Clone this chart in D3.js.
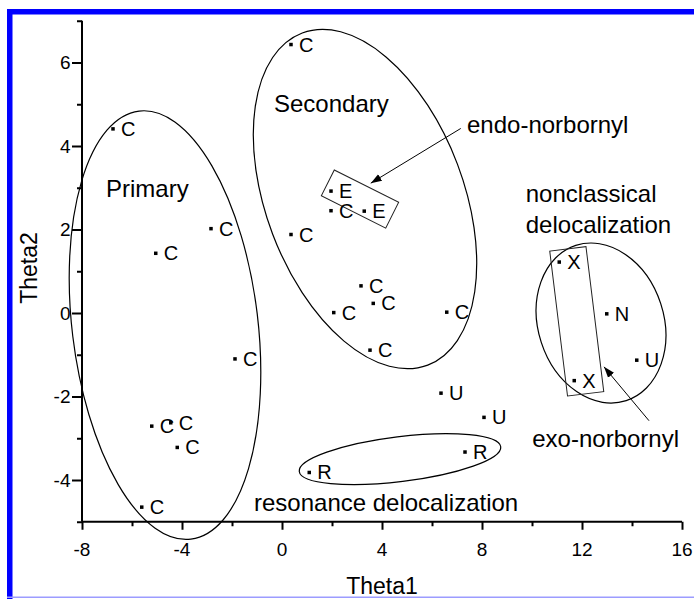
<!DOCTYPE html>
<html>
<head>
<meta charset="utf-8">
<script src="https://cdn.jsdelivr.net/npm/d3@7/dist/d3.min.js"></script>
<style>
  html, body { margin: 0; padding: 0; background: #fff; }
  svg { display: block; }
  text { font-family: "Liberation Sans", Arial, Helvetica, sans-serif; fill: #000; }
</style>
</head>
<body>
<svg id="chart" width="694" height="599"></svg>
<script>
// Cluster map of carbocation descriptors in the (Theta1, Theta2) plane
const xTicksMajor = [-8, -4, 0, 4, 8, 12, 16];
const xTicksMinor = [-6, -2, 2, 6, 10, 14];
const yTicksMajor = [-4, -2, 0, 2, 4, 6];
const yTicksMinor = [-5, -3, -1, 1, 3, 5, 7];

// Scattered compounds: Theta1, Theta2 and class letter
const pointX = [-6.76, -5.05, -2.84, -1.88, -5.21, -4.45, -4.19, -5.61,
                0.36, 0.36, 1.96, 1.96, 3.29, 3.16, 3.65, 2.07, 3.52, 6.59,
                6.36, 8.08, 1.09, 7.32, 11.09, 11.69, 12.99, 14.19];
const pointY = [4.41, 1.43, 2.02, -1.10, -2.71, -2.63, -3.22, -4.65,
                6.43, 1.88, 2.92, 2.45, 2.44, 0.65, 0.23, 0.01, -0.89, 0.02,
                -1.92, -2.50, -3.82, -3.33, 1.22, -1.62, -0.02, -1.13];
const pointLabel = ["C", "C", "C", "C", "C", "C", "C", "C",
                    "C", "C", "E", "C", "E", "C", "C", "C", "C", "C",
                    "U", "U", "R", "R", "X", "X", "N", "U"];

// Group outlines: centre in data units
const groupName = ["Primary", "Secondary", "nonclassical", "resonance"];
const groupCx = [-4.68, 3.32, 12.76, 4.72];
const groupCy = [-0.29, 2.73, -0.24, -3.50];

// Norbornyl boxes: centre in data units
const boxName = ["endo", "exo"];
const boxCx = [3.12, 11.79];
const boxCy = [2.73, -0.20];

// Annotation texts anchored at data coordinates (start of baseline)
const noteText = ["Primary", "Secondary", "endo-norbornyl", "nonclassical",
                  "delocalization", "exo-norbornyl", "resonance delocalization"];
const noteX = [-7.04, -0.32, 7.4, 9.75, 9.75, 10.01, -1.12];
const noteY = [2.78, 4.81, 4.32, 2.65, 1.91, -3.20, -4.74];

// Pointer arrows: tail and head in data units
const arrowX1 = [7.15, 14.68];
const arrowY1 = [4.42, -2.58];
const arrowX2 = [3.55, 12.88];
const arrowY2 = [3.11, -1.29];

const svg = d3.select("#chart");
const plot = { left: 82, right: 682, top: 20.75, bottom: 521.75 };

const x = d3.scaleLinear().domain([-8, 16]).range([plot.left, plot.right]);
const y = d3.scaleLinear().domain([-5, 7]).range([plot.bottom, plot.top]);

// Frame strips
svg.append("rect").attr("x", 7).attr("y", 9).attr("width", 687).attr("height", 5.5).attr("fill", "#0000ff");
svg.append("rect").attr("x", 7).attr("y", 9).attr("width", 5.5).attr("height", 590).attr("fill", "#0000ff");
svg.append("rect").attr("x", 7).attr("y", 596.5).attr("width", 687).attr("height", 1.5).attr("fill", "#9c9cff");

const defs = svg.append("defs");
defs.append("marker")
  .attr("id", "head")
  .attr("viewBox", "0 0 10 10")
  .attr("refX", 10).attr("refY", 5)
  .attr("markerWidth", 11).attr("markerHeight", 11)
  .attr("markerUnits", "userSpaceOnUse")
  .attr("orient", "auto")
  .append("path").attr("d", "M0,1.5 L10,5 L0,8.5 Z").attr("fill", "#000");

// Axes
const gx = svg.append("g").attr("transform", `translate(0,${plot.bottom})`);
gx.call(d3.axisBottom(x).tickValues(xTicksMajor).tickSize(8).tickFormat(""));
const gxm = svg.append("g").attr("transform", `translate(0,${plot.bottom})`);
gxm.call(d3.axisBottom(x).tickValues(xTicksMinor).tickSize(4.5).tickFormat(""));
const gy = svg.append("g").attr("transform", `translate(${plot.left},0)`);
gy.call(d3.axisLeft(y).tickValues(yTicksMajor).tickSize(10).tickFormat(""));
const gym = svg.append("g").attr("transform", `translate(${plot.left},0)`);
gym.call(d3.axisLeft(y).tickValues(yTicksMinor).tickSize(5).tickFormat(""));

[gx, gxm, gy, gym].forEach(g => {
  g.selectAll(".domain").attr("stroke", "#000").attr("stroke-width", 2);
  g.selectAll(".tick line").attr("stroke", "#000").attr("stroke-width", 2);
});
gxm.select(".domain").remove();
gym.select(".domain").remove();
gx.select(".domain").attr("d", `M${plot.left},0H${plot.right}`);
gy.select(".domain").attr("d", `M0,${plot.top}V${plot.bottom}`);

svg.append("g").selectAll("text").data(xTicksMajor).join("text")
  .attr("x", d => x(d)).attr("y", 556)
  .attr("text-anchor", "middle").attr("font-size", 19)
  .text(d => d);
svg.append("g").selectAll("text").data(yTicksMajor).join("text")
  .attr("x", 70.5).attr("y", d => y(d) + 6.6)
  .attr("text-anchor", "end").attr("font-size", 19)
  .text(d => d);

svg.append("text").attr("x", 382).attr("y", 594)
  .attr("text-anchor", "middle").attr("font-size", 23).text("Theta1");
svg.append("text").attr("transform", `translate(37,268) rotate(-90)`)
  .attr("text-anchor", "middle").attr("font-size", 23).text("Theta2");

// Group ellipses (semi-axes in pixels, rotation in degrees)
const ellipseShape = {
  Primary: { rx: 92.9, ry: 215.6, rot: -6.9 },
  Secondary: { rx: 98.8, ry: 177.5, rot: -20.7 },
  nonclassical: { rx: 62.8, ry: 81.6, rot: -18 },
  resonance: { rx: 101.5, ry: 22.5, rot: -7 }
};
svg.append("g").selectAll("ellipse").data(groupName).join("ellipse")
  .attr("cx", 0).attr("cy", 0)
  .attr("rx", (d) => ellipseShape[d].rx)
  .attr("ry", (d) => ellipseShape[d].ry)
  .attr("transform", (d, i) => `translate(${x(groupCx[i])},${y(groupCy[i])}) rotate(${ellipseShape[d].rot})`)
  .attr("fill", "none").attr("stroke", "#000").attr("stroke-width", 1.2);

// Norbornyl boxes
const boxShape = {
  endo: { w: 72, h: 28.9, rot: 26.6 },
  exo: { w: 36.5, h: 146, rot: -7 }
};
svg.append("g").selectAll("rect").data(boxName).join("rect")
  .attr("x", d => -boxShape[d].w / 2).attr("y", d => -boxShape[d].h / 2)
  .attr("width", d => boxShape[d].w).attr("height", d => boxShape[d].h)
  .attr("transform", (d, i) => `translate(${x(boxCx[i])},${y(boxCy[i])}) rotate(${boxShape[d].rot})`)
  .attr("fill", "none").attr("stroke", "#222").attr("stroke-width", 1);

// Arrows
svg.append("g").selectAll("line").data(arrowX1).join("line")
  .attr("x1", (d, i) => x(arrowX1[i])).attr("y1", (d, i) => y(arrowY1[i]))
  .attr("x2", (d, i) => x(arrowX2[i])).attr("y2", (d, i) => y(arrowY2[i]))
  .attr("stroke", "#000").attr("stroke-width", 1)
  .attr("marker-end", "url(#head)");

// Points and their letters
const pts = pointX.map((v, i) => ({ x: v, y: pointY[i], label: pointLabel[i] }));
const gp = svg.append("g");
gp.selectAll("rect").data(pts).join("rect")
  .attr("x", d => x(d.x) - 1.75).attr("y", d => y(d.y) - 1.75)
  .attr("width", 3.5).attr("height", 3.5).attr("fill", "#000");
gp.selectAll("text").data(pts).join("text")
  .attr("x", d => x(d.x) + 8).attr("y", d => y(d.y) + 7)
  .attr("font-size", 20)
  .text(d => d.label);

// Annotations
svg.append("g").selectAll("text").data(noteText).join("text")
  .attr("x", (d, i) => x(noteX[i])).attr("y", (d, i) => y(noteY[i]))
  .attr("font-size", 24)
  .text(d => d);
</script>
</body>
</html>
